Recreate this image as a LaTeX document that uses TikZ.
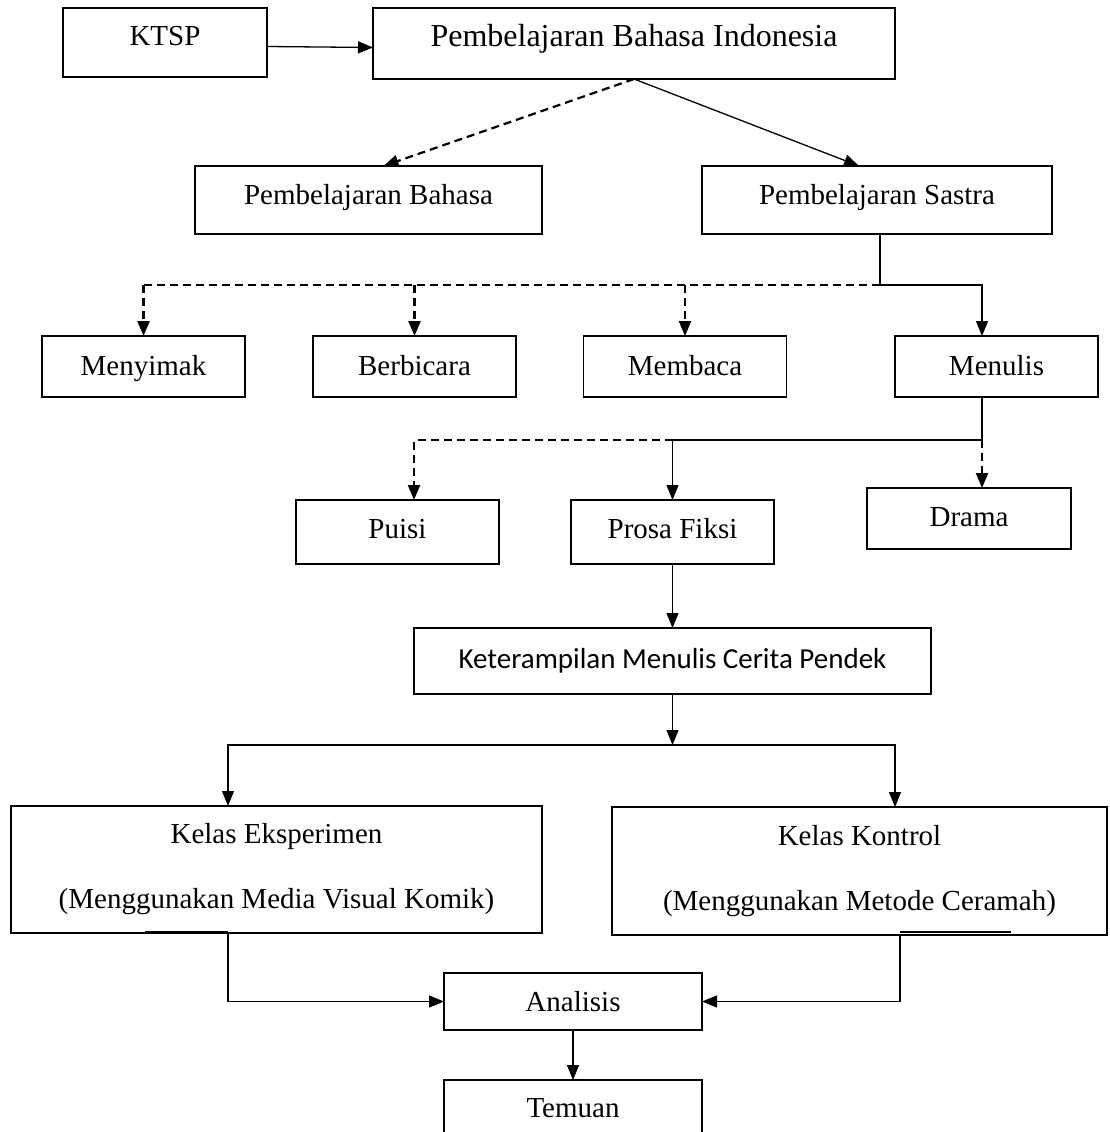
\documentclass[tikz,border=0pt]{standalone}
\usepackage{fontspec}
\setmainfont{Liberation Serif}
\newfontfamily\calibrifont{Carlito}
\usetikzlibrary{arrows.meta}

\tikzset{%
	box/.style={
		draw, line width=1.5pt,
		inner sep=0pt, outer sep=0pt,
		text height=20pt, text depth=#1,
		font=\fontsize{29}{35}\selectfont
	},
	box/.default=9pt,
	box tall/.style={
		draw, line width=1.5pt,
		inner sep=0pt, outer sep=0pt,
		align=center,
		font=\fontsize{29}{65}\selectfont
	},
	dash line/.style={dash pattern=on 8pt off 5pt, line width=2.2pt},
}

\begin{document}
\begin{tikzpicture}[x=1pt, y=-1pt, >={Triangle[length=15pt,width=12pt]}, line width=1.3pt]
\useasboundingbox (0,0) rectangle (1109,1132);

% top row
\node [box=14pt, minimum width=204pt, minimum height=69pt] (ktsp) at (165,42.5) {KTSP};
\node [box=14pt, minimum width=522pt, minimum height=71pt, font=\fontsize{32}{38}\selectfont] (pbi) at (634,43.5) {Pembelajaran Bahasa Indonesia};

\node [box=12pt, minimum width=347pt, minimum height=68pt] (pb) at (368.5,200) {Pembelajaran Bahasa};
\node [box=12pt, minimum width=350pt, minimum height=68pt] (ps) at (877,200) {Pembelajaran Sastra};

% keterampilan berbahasa
\foreach \n/\l/\x in {menyimak/Menyimak/143.5, berbicara/Berbicara/414.5, membaca/Membaca/685, menulis/Menulis/996.5}
\node [box=2pt, minimum width=203pt, minimum height=61pt] (\n) at (\x,366.5) {\l};

% genre
\node [box=7pt, minimum width=203pt, minimum height=64pt] (puisi) at (397.5,532) {Puisi};
\node [box=7pt, minimum width=203pt, minimum height=64pt] (prosa) at (672.5,532) {Prosa Fiksi};
\node [box=4pt, minimum width=204pt, minimum height=61pt] (drama) at (969,518.5) {Drama};

\node [box=6pt, minimum width=517pt, minimum height=66pt, font=\calibrifont\fontsize{29}{35}\selectfont] (kmcp) at (672.5,661) {Keterampilan Menulis Cerita Pendek};

% kelas
\node [box tall, minimum width=531pt, minimum height=127pt] (eksp) at (276.5,869.5) {Kelas Eksperimen\\(Menggunakan Media Visual Komik)};
\node [box tall, minimum width=495pt, minimum height=128pt] (kontrol) at (859.5,871) {Kelas Kontrol\\(Menggunakan Metode Ceramah)};

\node [box=1pt, minimum width=258pt, minimum height=57pt] (analisis) at (573,1001.5) {Analisis};
\node [box=10pt, minimum width=258pt, minimum height=64pt] (temuan) at (573,1112) {Temuan};

% junctions
\coordinate (sj) at (880,285);
\coordinate (mj) at (982,440);
\coordinate (kj) at (672.5,745);

% arrows
\draw [->] ([yshift=-4pt]ktsp.east) -- ([yshift=-4pt]pbi.west);
\draw [->, dash line] (pbi.south) -- ([xshift=15pt]pb.north);
\draw [->] (pbi.south) -- ([xshift=-18pt]ps.north);

\draw (ps.south -| sj) -- (sj);
\draw [dash line] (sj) -- (sj -| menyimak.north);
\foreach \n in {menyimak,berbicara,membaca}
\draw [->, dash line] (sj -| \n.north) -- (\n.north);
\draw [->] (sj) -| ([xshift=-14.5pt]menulis.north);

\draw ([xshift=-14.5pt]menulis.south) -- (mj);
\draw [->] (mj) -| (prosa.north);
\draw [->, dash line] (mj -| prosa.north) -| ([xshift=16.5pt]puisi.north);
\draw [->, dash line] (mj) -- ([xshift=13pt]drama.north);

\draw [->] (prosa) -- (kmcp);
\draw [->] (kmcp) -- (kj);
\draw [->] (kj) -| ([xshift=-48.5pt]eksp.north);
\draw [->] (kj) -| ([xshift=35.5pt]kontrol.north);

\draw [line width=2.4pt] ([xshift=-131.5pt,yshift=1pt]eksp.south) -- ([xshift=-48.5pt,yshift=1pt]eksp.south);
\draw [line width=2.4pt] ([xshift=40.5pt,yshift=3pt]kontrol.south) -- ([xshift=151.5pt,yshift=3pt]kontrol.south);
\draw [->] ([xshift=-48.5pt]eksp.south) |- (analisis.west);
\draw [->] ([xshift=40.5pt]kontrol.south) |- (analisis.east);

\draw [->] (analisis) -- (temuan);

\end{tikzpicture}
\end{document}
